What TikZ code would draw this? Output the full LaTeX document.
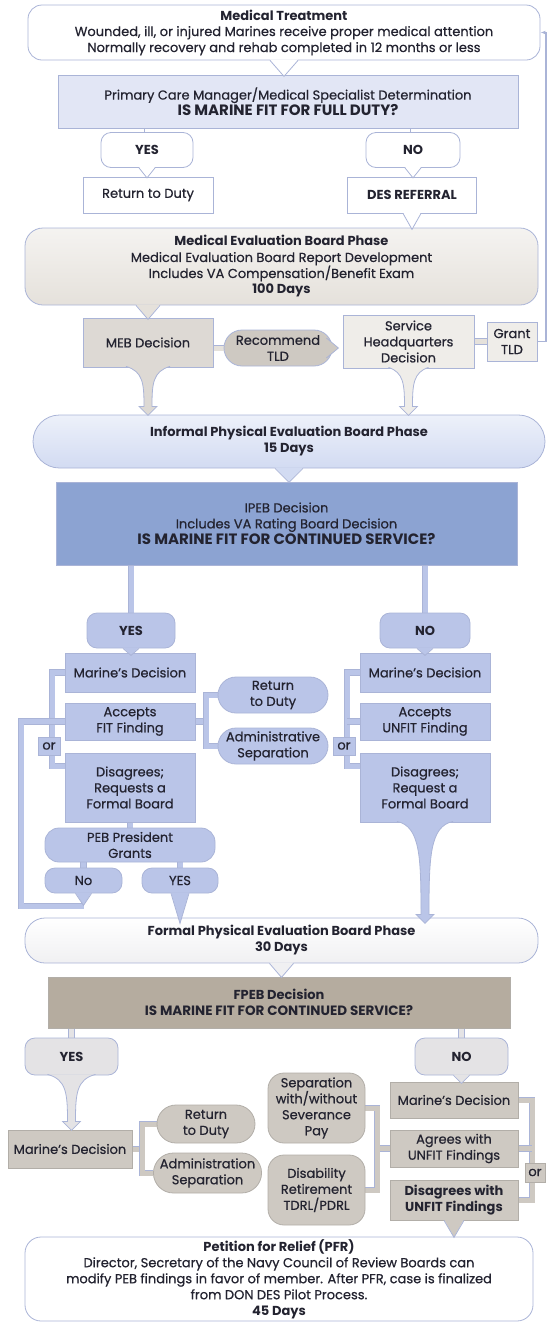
\documentclass[tikz,border=0pt]{standalone}
\usepackage{fontspec}
\setmainfont{Poppins}[UprightFeatures={FakeBold=0.6}]
\usepackage{xcolor}
\usetikzlibrary{calc,positioning,arrows.meta,shapes.misc,backgrounds}
\definecolor{lineblue}{RGB}{170,180,215}
\definecolor{linegray}{RGB}{178,174,168}
\definecolor{paleblue}{RGB}{226,230,245}
\definecolor{periblue}{RGB}{186,197,232}
\definecolor{ipebblue}{RGB}{140,163,210}
\definecolor{capblue}{RGB}{210,219,242}
\definecolor{beige}{RGB}{229,225,219}
\definecolor{stone}{RGB}{206,201,194}
\definecolor{taupe}{RGB}{181,172,159}
\definecolor{offwhite}{RGB}{240,240,242}
\definecolor{bubgray}{RGB}{228,227,229}
\definecolor{ink}{RGB}{35,35,48}
\tikzset{
  base/.style={draw=lineblue, line width=0.8pt, align=center, text=ink, inner sep=0pt, font=\fontsize{13}{16}\selectfont},
  sqbox/.style={base},
  rbox/.style={base, rounded corners=#1},
  capsule/.style={base, rounded rectangle},
  pipe/.style={draw=lineblue, line width=0.8pt, double=#1, double distance=5pt},
}

\begin{document}
\begin{tikzpicture}[x=1pt,y=-1pt]
\useasboundingbox (0,0) rectangle (549,1323);

\node[rbox=14pt, fill=white, minimum width=512, minimum height=55] (medtx) at (284,32.5) {\textbf{Medical Treatment}\\Wounded, ill, or injured Marines receive proper medical attention\\Normally recovery and rehab completed in 12 months or less};
\node[sqbox, fill=paleblue, minimum width=460, minimum height=53] (pcm) at (288,101.5) {Primary Care Manager/Medical Specialist Determination\\{\fontsize{15}{19}\selectfont\bfseries IS MARINE FIT FOR FULL DUTY?}};
\node[rbox=10pt, fill=white, minimum width=92, minimum height=35] (yes1) at (147,150) {\textbf{YES}};
\node[rbox=10pt, fill=white, minimum width=94, minimum height=35] (no1) at (413,150) {\textbf{NO}};
\node[sqbox, fill=white, minimum width=130, minimum height=36] (rtd1) at (148,195) {Return to Duty};
\node[sqbox, fill=white, minimum width=129, minimum height=36] (des) at (412,195) {\textbf{DES REFERRAL}};

\node[rbox=18pt, top color=beige!40, bottom color=beige, minimum width=513, minimum height=77] (mebph) at (281.5,266.5) {\textbf{Medical Evaluation Board Phase}\\Medical Evaluation Board Report Development\\Includes VA Compensation/Benefit Exam\\\textbf{100 Days}};
\node[sqbox, fill=stone!70, minimum width=130, minimum height=49] (mebdec) at (148,342.5) {MEB Decision};
\node[capsule, fill=stone, minimum width=108, minimum height=36] (rectld) at (278,348) {Recommend\\TLD};
\node[sqbox, fill=beige!60, minimum width=131, minimum height=53] (shq) at (408.5,341.5) {Service\\Headquarters\\Decision};
\node[sqbox, fill=beige!60, minimum width=50, minimum height=39] (gtld) at (512,341.5) {Grant\\TLD};

\node[capsule, top color=capblue!40, bottom color=capblue, minimum width=512, minimum height=53] (ipebph) at (289,441.5) {\textbf{Informal Physical Evaluation Board Phase}\\\textbf{15 Days}};
\node[sqbox, fill=ipebblue, minimum width=461, minimum height=83] (ipebdec) at (286.5,523.5) {IPEB Decision\\Includes VA Rating Board Decision\\{\fontsize{15}{21}\selectfont\bfseries IS MARINE FIT FOR CONTINUED SERVICE?}};

\node[rbox=10pt, fill=periblue, minimum width=88, minimum height=35] (yes2) at (131,630.5) {\textbf{YES}};
\node[rbox=10pt, fill=periblue, minimum width=90, minimum height=35] (no2) at (425,630.5) {\textbf{NO}};
\node[sqbox, fill=periblue, minimum width=130, minimum height=39] (mdL) at (130,672.5) {Marine's Decision};
\node[sqbox, fill=periblue, minimum width=130, minimum height=37] (accL) at (130,721.5) {Accepts\\FIT Finding};
\node[sqbox, fill=periblue, minimum width=130, minimum height=69] (disL) at (130,787.5) {Disagrees;\\Requests a\\Formal Board};
\node[sqbox, fill=periblue, minimum width=22, minimum height=18] (orL) at (49,746) {or};
\node[capsule, fill=periblue, minimum width=110, minimum height=36] (rtd2) at (273,695) {Return\\to Duty};
\node[capsule, fill=periblue, minimum width=110, minimum height=36] (adsep) at (273,746) {Administrative\\Separation};
\node[rbox=14pt, fill=periblue, minimum width=170, minimum height=34] (pebpg) at (130,845) {PEB President\\Grants};
\node[rbox=10pt, fill=periblue, minimum width=77, minimum height=25] (noL) at (83.5,880.5) {No};
\node[rbox=10pt, fill=periblue, minimum width=76, minimum height=25] (yesL) at (180,880.5) {YES};
\node[sqbox, fill=periblue, minimum width=130, minimum height=39] (mdR) at (425,672.5) {Marine's Decision};
\node[sqbox, fill=periblue, minimum width=130, minimum height=37] (accR) at (425,721.5) {Accepts\\UNFIT Finding};
\node[sqbox, fill=periblue, minimum width=130, minimum height=69] (disR) at (425,787.5) {Disagrees;\\Request a\\Formal Board};
\node[sqbox, fill=periblue, minimum width=22, minimum height=18] (orR) at (344,746) {or};

\node[rbox=20pt, top color=white, bottom color=offwhite, minimum width=513, minimum height=45] (fpebph) at (281.5,940.5) {\textbf{Formal Physical Evaluation Board Phase}\\\textbf{30 Days}};
\node[sqbox, fill=taupe, draw=linegray, minimum width=462, minimum height=51] (fpebdec) at (279,1002.5) {\textbf{FPEB Decision}\\{\fontsize{13.5}{16}\selectfont\bfseries IS MARINE FIT FOR CONTINUED SERVICE?}};
\node[rbox=10pt, fill=bubgray, minimum width=93, minimum height=37] (yes3) at (71.5,1056.5) {\textbf{YES}};
\node[rbox=10pt, fill=bubgray, minimum width=93, minimum height=37] (no3) at (461.5,1056.5) {\textbf{NO}};
\node[sqbox, fill=stone, draw=linegray, minimum width=124, minimum height=38] (mdL3) at (70,1149) {Marine's Decision};
\node[capsule, fill=stone, draw=linegray, minimum width=98, minimum height=38] (rtd3) at (206,1124) {Return\\to Duty};
\node[capsule, fill=stone, draw=linegray, minimum width=101, minimum height=40] (adsep3) at (207.5,1173) {Administration\\Separation};
\node[rbox=16pt, fill=stone, draw=linegray, minimum width=97, minimum height=70] (sevpay) at (316.5,1108) {Separation\\with/without\\Severance\\Pay};
\node[rbox=16pt, fill=stone, draw=linegray, minimum width=97, minimum height=70] (disret) at (316.5,1190) {Disability\\Retirement\\TDRL/PDRL};
\node[sqbox, fill=stone, draw=linegray, minimum width=128, minimum height=36] (mdR3) at (454,1100) {Marine's Decision};
\node[sqbox, fill=stone, draw=linegray, minimum width=128, minimum height=37] (agr) at (454,1148.5) {Agrees with\\UNFIT Findings};
\node[sqbox, fill=stone, draw=linegray, minimum width=128, minimum height=40] (disagr) at (454,1200) {\textbf{Disagrees with}\\\textbf{UNFIT Findings}};
\node[sqbox, fill=stone, draw=linegray, minimum width=20, minimum height=19] (orR3) at (535,1172.5) {or};
\node[rbox=16pt, fill=white, minimum width=508, minimum height=84] (pfr) at (279,1279) {\textbf{Petition for Relief (PFR)}\\Director, Secretary of the Navy Council of Review Boards can\\modify PEB findings in favor of member. After PFR, case is finalized\\from DON DES Pilot Process.\\\textbf{45 Days}};

\coordinate (brL) at (52,766);
\coordinate (brR) at (347,766);
\coordinate (brM) at (206,721.5);
\coordinate (loopA) at (83.5,906);
\coordinate (loopB) at (21,721.5);
\coordinate (brB) at (142,1149);
\coordinate (brC) at (377,1148.5);
\coordinate (brD) at (532,1200);
\coordinate (retc) at (546,32.5);

\begin{scope}[on background layer]
\draw[pipe=white] (pcm.south -| yes1) -- (yes1.north);
\draw[pipe=white] (pcm.south -| no1) -- (no1.north);
\draw[pipe=beige] (mebdec.east |- rectld) -- (rectld.west);
\draw[pipe=beige] (shq.east) -- (gtld.west);
\draw[pipe=periblue] (ipebdec.south -| yes2) -- (yes2.north);
\draw[pipe=periblue] (ipebdec.south -| no2) -- (no2.north);
\draw[pipe=periblue] (mdL.west) -| (brL) -- (brL -| disL.west);
\draw[pipe=periblue] (accL.west -| brL) -- (accL.west);
\draw[pipe=periblue] (mdR.west) -| (brR) -- (brR -| disR.west);
\draw[pipe=periblue] (accR.west -| brR) -- (accR.west);
\draw[pipe=periblue] (accL.east) -- (brM);
\draw[pipe=periblue] (rtd2.west) -| (brM) |- (adsep.west);
\draw[pipe=periblue] (disL.south) -- (pebpg.north);
\draw[pipe=periblue] (pebpg.south -| noL) -- (noL.north);
\draw[pipe=periblue] (pebpg.south -| yesL) -- (yesL.north);
\draw[pipe=periblue] (loopA) -| (loopB) -- (accL.west);
\draw[pipe=bubgray] (fpebdec.south -| yes3) -- (yes3.north);
\draw[pipe=bubgray] (fpebdec.south -| no3) -- (no3.north);
\draw[pipe=stone] (mdL3.east) -- (brB);
\draw[pipe=stone] (rtd3.west) -| (brB) |- (adsep3.west);
\draw[pipe=stone] (agr.west) -- (brC);
\draw[pipe=stone] (sevpay.east) -| (brC) |- (disret.east);
\draw[pipe=stone] (mdR3.east) -| (brD) -- (disagr.east);
\draw[pipe=stone] (agr.east -| brD) -- (agr.east);
\end{scope}

\foreach \p/\w/\len/\col in {medtx.south/14/16/white, yes1.south/8/10/white, no1.south/8/10/white, des.south/9/16/white, mebph.south -| mebdec/12/14/beige, ipebph.south/14/14/capblue, yes2.south/8/7/periblue, no2.south/8/7/periblue, noL.south/8/12/periblue, yesL.south/9/30/periblue, fpebph.south/12/14/offwhite, no3.south/8/8/bubgray, disagr.south/10/17/stone}{
  \fill[\col, shift={(\p)}] (-\w,-1) -- (0,\len) -- (\w,-1) -- cycle;
  \draw[lineblue, line width=0.8pt, shift={(\p)}] (-\w,0) -- (0,\len) -- (\w,0);
}

\foreach \p/\w/\len/\col in {mebdec.south/22/48/stone!70, shq.south/20/47/beige!60, disR.south/28/101/periblue, yes3.south/24/55/bubgray}{
  \filldraw[fill=\col, draw=lineblue, line width=0.8pt, shift={(\p)}] (-\w,-1) .. controls (-5,4) and (-4,\len/3) .. (-4,\len-9) -- (-9,\len-9) -- (0,\len) -- (9,\len-9) -- (4,\len-9) .. controls (4,\len/3) and (5,4) .. (\w,-1);
}

\filldraw[fill=stone, draw=lineblue, line width=0.8pt] (rectld.east) ++(-6,-10) -- ++(12,10) -- ++(-12,10);
\draw[lineblue, line width=1.5pt, -{Latex[length=5pt]}] (gtld.east) -| (retc) -- (medtx.east);
\end{tikzpicture}
\end{document}
